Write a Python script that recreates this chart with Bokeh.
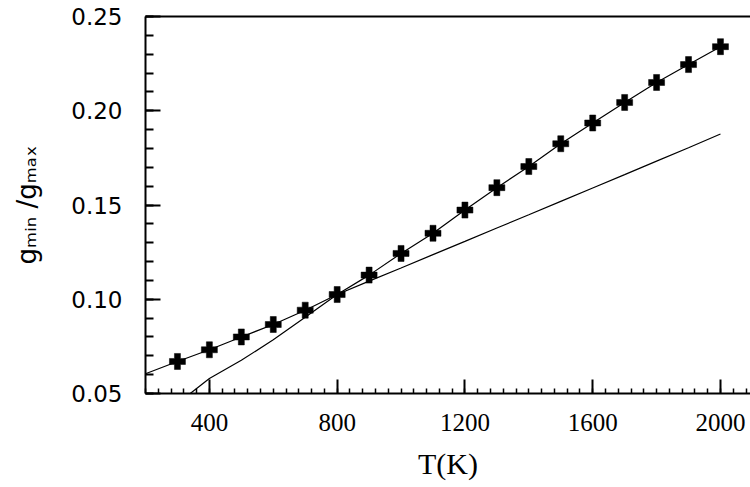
from bokeh.plotting import figure
from bokeh.models import (Range1d, LinearAxis, SingleIntervalTicker, FixedTicker,
                          CustomJSTickFormatter)
from bokeh.embed import file_html
from bokeh.resources import INLINE

# ---------------- data ----------------
T_points = [300, 400, 500, 600, 700, 800, 900, 1000, 1100, 1200,
            1300, 1400, 1500, 1600, 1700, 1800, 1900, 2000]
ratio_points = [0.067, 0.0732, 0.080, 0.0866, 0.0942, 0.1025, 0.1128, 0.1243, 0.135, 0.1473,
                0.1592, 0.1704, 0.1825, 0.1935, 0.2044, 0.215, 0.2245, 0.234]

T_fit = [200] + T_points
ratio_fit = [0.0605] + ratio_points

T_line2 = [340, 400, 500, 600, 700, 800, 900, 1000, 1100, 1200,
           1300, 1400, 1500, 1600, 1700, 1800, 1900, 2000]
ratio_line2 = [0.050, 0.058, 0.0676, 0.0785, 0.0905, 0.1025, 0.1096, 0.1166, 0.1237, 0.1307,
               0.1378, 0.1448, 0.1519, 0.1590, 0.1661, 0.1733, 0.1804, 0.1877]

x_label = "T(K)"
y_label = "g\u2098\u1d62\u2099 /g\u2098\u2090\u2093"
x_tick_step = 400
y_tick_step = 0.05

# ---------------- layout ----------------
W, H = 750, 487
LEFT, RIGHT, TOP, BOTTOM = 145, 0, 16, 94
X0, X1 = 200, 2094
Y0, Y1 = 0.05, 0.25

p = figure(width=W, height=H, output_backend="svg", toolbar_location=None,
           x_range=Range1d(X0, X1), y_range=Range1d(Y0, Y1),
           x_axis_type=None, y_axis_type=None,
           min_border_left=LEFT, min_border_right=RIGHT,
           min_border_top=TOP, min_border_bottom=BOTTOM)
p.outline_line_color = None
p.background_fill_color = "white"
p.border_fill_color = "white"
p.xgrid.visible = False
p.ygrid.visible = False

xaxis = LinearAxis(ticker=SingleIntervalTicker(interval=x_tick_step, num_minor_ticks=10))
xaxis.axis_line_width = 2
xaxis.axis_line_color = "black"
xaxis.major_tick_in = 14
xaxis.major_tick_out = 0
xaxis.minor_tick_in = 5
xaxis.minor_tick_out = 0
xaxis.major_tick_line_width = 2
xaxis.minor_tick_line_width = 1.5
xaxis.major_label_standoff = 20
xaxis.major_label_text_font = "Liberation Serif"
xaxis.major_label_text_font_size = "25px"
xaxis.major_label_text_color = "black"
xaxis.axis_label = x_label
xaxis.axis_label_text_font = "Liberation Serif"
xaxis.axis_label_text_font_size = "30px"
xaxis.axis_label_text_font_style = "normal"
xaxis.axis_label_text_color = "black"
xaxis.axis_label_standoff = 13
p.add_layout(xaxis, "below")

yaxis = LinearAxis(ticker=SingleIntervalTicker(interval=y_tick_step, num_minor_ticks=5))
yaxis.axis_line_width = 2
yaxis.axis_line_color = "black"
yaxis.major_tick_in = 15
yaxis.major_tick_out = 0
yaxis.minor_tick_in = 8
yaxis.minor_tick_out = 0
yaxis.major_tick_line_width = 2
yaxis.minor_tick_line_width = 2
yaxis.major_label_standoff = 23
yaxis.major_label_text_font = "DejaVu Sans"
yaxis.major_label_text_font_size = "23px"
yaxis.major_label_text_color = "black"
yaxis.major_label_orientation = "horizontal"
yaxis.formatter = CustomJSTickFormatter(code="return tick.toFixed(2);")
yaxis.axis_label = y_label
yaxis.axis_label_text_font = "DejaVu Sans"
yaxis.axis_label_text_font_size = "26px"
yaxis.axis_label_text_font_style = "normal"
yaxis.axis_label_text_color = "black"
yaxis.axis_label_standoff = 26
p.add_layout(yaxis, "left")

top_axis = LinearAxis(ticker=FixedTicker(ticks=[]))
top_axis.axis_line_width = 2
top_axis.axis_line_color = "black"
top_axis.major_tick_out = 0
top_axis.major_tick_in = 0
top_axis.minor_tick_out = 0
top_axis.minor_tick_in = 0
p.add_layout(top_axis, "above")

p.line(T_fit, ratio_fit, line_color="black", line_width=1.2)
p.line(T_line2, ratio_line2, line_color="black", line_width=1.2)
p.scatter(T_points, ratio_points, marker="plus", size=16,
          fill_color="black", line_color="black", line_width=0.5)

open("out.html", "w").write(file_html(p, INLINE))
